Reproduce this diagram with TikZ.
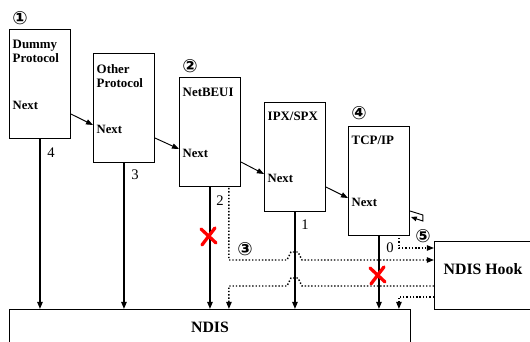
\documentclass[tikz,border=0pt]{standalone}
\usepackage{fontspec}
\setmainfont{Liberation Serif}
\newfontfamily\circfont{DejaVu Sans}
\usetikzlibrary{arrows.meta,calc,positioning}

\tikzset{
  layer/.style={draw, line width=0.8pt, minimum width=1.83cm, minimum height=3.27cm, inner sep=0pt, anchor=north west},
  title/.style={anchor=north west, inner sep=0pt, align=left, font=\fontsize{11}{12.2}\selectfont\bfseries},
  nextlbl/.style={anchor=base west, inner sep=0pt, font=\fontsize{10.8}{12.2}\selectfont\bfseries},
  chain/.style={line width=0.8pt, -{Triangle[length=6pt,width=4.5pt]}},
  pass/.style={line width=1.3pt, -{Triangle[length=6pt,width=4.5pt]}},
  hooked/.style={line width=1.2pt, dash pattern=on 1.2pt off 1.6pt, -{Triangle[length=6pt,width=4.5pt]}},
  idx/.style={inner sep=0pt, font=\fontsize{12.5}{14}\selectfont},
  circ/.style={inner sep=0pt, font=\circfont\bfseries\fontsize{15.5}{16}\selectfont},
  blocked/.style={draw=red, line width=2.8pt, line cap=round}
}

\begin{document}
\begin{tikzpicture}[x=0.03cm, y=-0.03cm]

\clip (0,0) rectangle (530,342);

% Protocol boxes
\node[layer] (dummy)   at (9,29)   {};
\node[layer] (other)   at (93,53)  {};
\node[layer] (netbeui) at (179,77) {};
\node[layer] (ipx)     at (264,102) {};
\node[layer] (tcp)     at (348,126) {};

% NDIS and hook boxes
\node[draw, line width=0.8pt, anchor=north west, minimum width=3.2cm, minimum height=2.04cm] (hook) at (434,241) {};
\node[draw, line width=0.8pt, anchor=north west, minimum width=12.03cm, minimum height=1.5cm] (ndis) at (9,309) {};
\node[font=\fontsize{13.5}{15}\selectfont\bfseries] (hooktxt) at (483,269) {NDIS Hook};
\node[font=\fontsize{13.5}{15}\selectfont\bfseries] (ndistxt) at (210,327) {NDIS};

% Box names
\node[title] (dummyname)   at ($(dummy.north west)+(3.5,11)$)   {Dummy\\Protocol};
\node[title] (othername)   at ($(other.north west)+(3.5,11)$)   {Other\\Protocol};
\node[title] (netbeuiname) at ($(netbeui.north west)+(3.5,11)$) {NetBEUI};
\node[title] (ipxname)     at ($(ipx.north west)+(3.5,10)$)     {IPX/SPX};
\node[title] (tcpname)     at ($(tcp.north west)+(3.5,10)$)     {TCP/IP};

% Next fields
\foreach \p in {dummy, other, netbeui, ipx, tcp}
  \node[nextlbl] (\p next) at ($(\p.north west)+(3.5,81)$) {Next};

% Next pointers
\foreach \a/\b in {dummy/other, other/netbeui, netbeui/ipx, ipx/tcp}
  \draw[chain] ($(\a.north east)+(0,85)$) -- ($(\b.north west)+(0,72)$);
\draw[line width=0.8pt, -{Triangle[length=5pt,width=4pt]}] ($(tcp.north east)+(0,85)$) -- ++(13,4) -- ++(0,6) -- ($(tcp.north east)+(1,91)$);

% Calls down to NDIS
\foreach \p in {dummy, other, netbeui, ipx, tcp}
  \draw[pass] (\p.south) -- (\p.south |- ndis.north);

% Index labels
\node[idx] (n4) at ($(dummy.south)+(11,14)$)   {4};
\node[idx] (n3) at ($(other.south)+(11,12)$)   {3};
\node[idx] (n2) at ($(netbeui.south)+(10,14)$) {2};
\node[idx] (n1) at ($(ipx.south)+(10,13)$)     {1};
\node[idx] (n0) at ($(tcp.south)+(11,12)$)     {0};

% Hooked paths
\coordinate (lane0) at (0,248);
\coordinate (lane1) at (0,260);
\coordinate (lane2) at (0,286);
\coordinate (lane3) at (0,297);
\draw[hooked] ($(tcp.south east)+(-11,2)$) |- (hook.west |- lane0);
\draw[hooked] ($(netbeui.south east)+(-12,1)$) |- ($(ipx.south |- lane1)+(-8,0)$)
  -- ++(4,-8) -- ++(7,0) -- ++(4,8) -- (hook.west |- lane1);
\draw[hooked] (hook.west |- lane2) -- ($(ipx.south |- lane2)+(7,0)$)
  -- ++(-4,-8) -- ++(-7,0) -- ++(-4,8) -| ($(netbeui.south east |- ndis.north)+(-12,0)$);
\draw[hooked] (hook.west |- lane3) -| ($(tcp.south east |- ndis.north)+(-11,0)$);

% Blocked calls
\draw[blocked] ($(netbeui.south)+(-9,42)$) -- ++(15,14) ($(netbeui.south)+(5,41)$) -- ++(-13,17);
\draw[blocked] ($(tcp.south)+(-9,32)$) -- ++(15,14) ($(tcp.south)+(5,31)$) -- ++(-13,17);

% Step marks
\node[circ] (m1) at (20,18)  {①};
\node[circ] (m2) at (190,66) {②};
\node[circ] (m3) at (245,249) {③};
\node[circ] (m4) at (359,113) {④};
\node[circ] (m5) at (423,236) {⑤};

\end{tikzpicture}
\end{document}
